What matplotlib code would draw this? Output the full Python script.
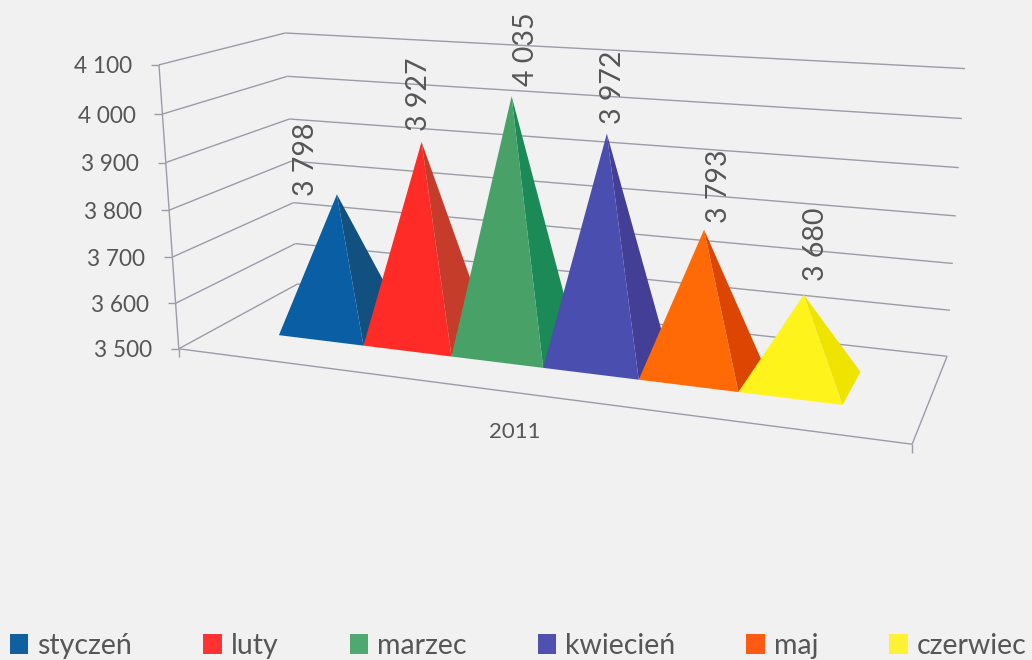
import numpy as np
import matplotlib
matplotlib.use('Agg')
import matplotlib.pyplot as plt

# data
months = ['styczeń', 'luty', 'marzec', 'kwiecień', 'maj', 'czerwiec']
values = [3798, 3927, 4035, 3972, 3793, 3680]
y_ticks = [3500, 3600, 3700, 3800, 3900, 4000, 4100]
y_tick_labels = ['3 500', '3 600', '3 700', '3 800', '3 900', '4 000', '4 100']
year = '2011'

# colours
bg = '#f1f1f2'
grid_col = '#9b9ca8'
text_col = '#565656'
front_cols = ['#0a5ea3', '#ff2b26', '#48a268', '#4a4eae', '#ff6a06', '#fff31c']
side_cols = ['#11507f', '#c63c2a', '#1c8a56', '#433e96', '#dc4502', '#efe300']
legend_cols = ['#1060a0', '#ff3333', '#4fa870', '#4f50b0', '#ff5a14', '#fff133']

# layout: base of the pyramids inside the box, label shifts from the apex (pixels)
u_start, u_end = 0.1, 0.9
v_front, v_back = 0.30, 0.69
label_dx = [-31, -3, 14, 6, 15, 12]
label_gap = [-2, 11, 10, 10, 7, 14]

# camera: box corners (u, v, w) and where they land in the picture
anchors_3d = [(0, 0, 0), (0, 0, 1), (0, 1, 0), (0, 1, 1), (1, 1, 0), (1, 1, 1), (1, 0, 0),
              (0, 0, .5), (0, 1, .5), (1, 1, .5)]
anchors_2d = [(178, 349), (160, 64), (298, 283), (284, 33), (947, 357), (965, 69), (912, 444),
              (169, 211), (292, 162), (956, 215)]
rows = []
for (a, b, c), (px, py) in zip(anchors_3d, anchors_2d):
    rows.append([a, b, c, 1, 0, 0, 0, 0, -px * a, -px * b, -px * c, -px])
    rows.append([0, 0, 0, 0, a, b, c, 1, -py * a, -py * b, -py * c, -py])
cam = np.linalg.svd(np.array(rows, dtype=float))[2][-1].reshape(3, 4)


def proj(u, v, value):
    w = (value - y_ticks[0]) / (y_ticks[-1] - y_ticks[0])
    p = cam @ np.array([u, v, w, 1.0])
    return p[0] / p[2], p[1] / p[2]


plt.rcParams['font.family'] = ['Lato', 'DejaVu Sans']
fig = plt.figure(figsize=(10.32, 6.6), dpi=100, facecolor=bg)
ax = fig.add_axes([0, 0, 1, 1])
ax.set_xlim(0, 1032)
ax.set_ylim(660, 0)
ax.axis('off')


def line(p, q, lw=1.0):
    ax.plot([p[0], q[0]], [p[1], q[1]], color=grid_col, lw=lw, solid_capstyle='butt', zorder=1)


# walls, floor and the value axis
for val, lab in zip(y_ticks, y_tick_labels):
    front = proj(0, 0, val)
    line(front, proj(0, 1, val))
    line(proj(0, 1, val), proj(1, 1, val))
    line((front[0] - 8, front[1]), front)
    ax.text(front[0] - 27, front[1] + 2, lab, ha='right', va='center', fontsize=16.3, color=text_col)
line(proj(0, 0, y_ticks[0]), proj(0, 0, y_ticks[-1]))
line(proj(0, 0, y_ticks[0]), proj(1, 0, y_ticks[0]))
line(proj(1, 0, y_ticks[0]), proj(1, 1, y_ticks[0]))
p = proj(0, 0, y_ticks[0])
line(p, (p[0], p[1] + 8))
p = proj(1, 0, y_ticks[0])
line(p, (p[0], p[1] + 9))

# pyramids, left to right so each front face covers the previous side face
step = (u_end - u_start) / len(values)
for i, val in enumerate(values):
    u0 = u_start + i * step
    u1 = u0 + step
    base = y_ticks[0]
    fl = proj(u0, v_front, base)
    fr = proj(u1, v_front, base)
    br = proj(u1, v_back, base)
    top = proj((u0 + u1) / 2, (v_front + v_back) / 2, val)
    ax.fill(*zip(fr, br, top), color=side_cols[i], lw=0, zorder=3)
    ax.fill(*zip(fl, fr, top), color=front_cols[i], lw=0, zorder=3)
    ax.text(top[0] + label_dx[i], top[1] - label_gap[i], f'{val // 1000} {val % 1000:03d}',
            rotation=90, ha='center', va='bottom', fontsize=20.5, color=text_col, zorder=4)

ax.text(515, 432, year, ha='center', va='center', fontsize=16, color=text_col)

# legend along the bottom edge
handles = [plt.Rectangle((0, 0), 1, 1, color=c, lw=0) for c in legend_cols]
ax.legend(handles, months, ncol=6, loc='center left', bbox_to_anchor=(10, 646),
          bbox_transform=ax.transData, frameon=False, fontsize=20.5, labelcolor=text_col,
          borderpad=0, borderaxespad=0, handlelength=0.64, handleheight=0.65,
          handletextpad=0.32, columnspacing=2.5)

plt.savefig('out.png', dpi=100, facecolor=bg)
